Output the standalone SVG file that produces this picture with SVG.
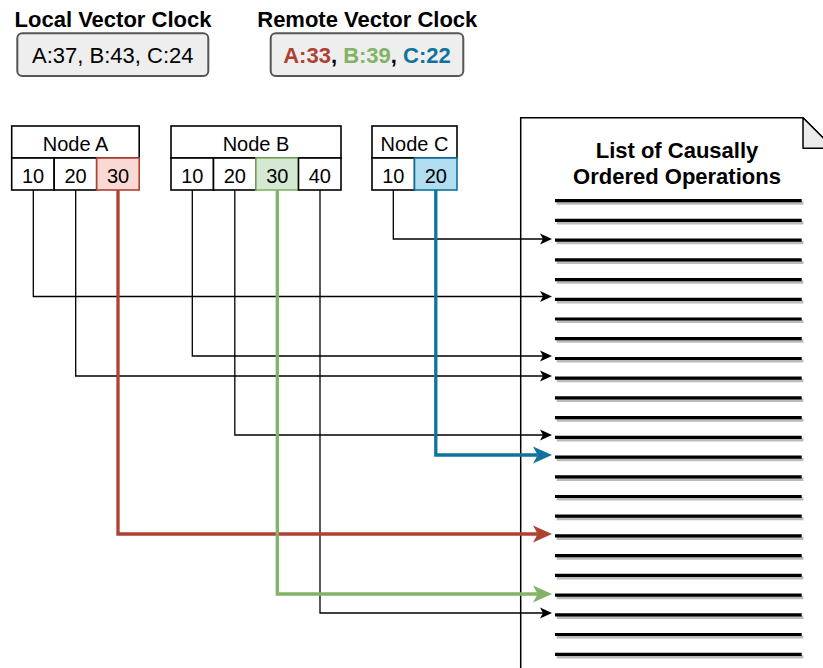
<svg xmlns="http://www.w3.org/2000/svg" width="823" height="668" viewBox="0 0 823 668">
<style>
text{font-family:"Liberation Sans",Arial,sans-serif;fill:#000}
.t{font-size:22px;font-weight:bold;text-anchor:middle}
.c{font-size:22px;text-anchor:middle}
.n{font-size:20px;text-anchor:middle}
.box{fill:#eeeeee;stroke:#555555;stroke-width:2}
.cell{fill:#ffffff;stroke:#000;stroke-width:1.6}
.k{fill:none;stroke:#000;stroke-width:1.3}
.red{fill:none;stroke:#ae4132;stroke-width:3.3}
.grn{fill:none;stroke:#82b366;stroke-width:3.3}
.blu{fill:none;stroke:#10739e;stroke-width:3.3}
</style>
<defs>
<marker id="ak" markerUnits="userSpaceOnUse" orient="auto" refX="0" refY="0" overflow="visible" markerWidth="1" markerHeight="1"><path d="M9,0 L-3,-5.5 L0,0 L-3,5.5 Z" fill="#000"/></marker>
<marker id="ar" markerUnits="userSpaceOnUse" orient="auto" refX="0" refY="0" overflow="visible" markerWidth="1" markerHeight="1"><path d="M14.25,0 L-4.75,-8.5 L0,0 L-4.75,8.5 Z" fill="#ae4132"/></marker>
<marker id="ag" markerUnits="userSpaceOnUse" orient="auto" refX="0" refY="0" overflow="visible" markerWidth="1" markerHeight="1"><path d="M14.25,0 L-4.75,-8.5 L0,0 L-4.75,8.5 Z" fill="#82b366"/></marker>
<marker id="ab" markerUnits="userSpaceOnUse" orient="auto" refX="0" refY="0" overflow="visible" markerWidth="1" markerHeight="1"><path d="M14.25,0 L-4.75,-8.5 L0,0 L-4.75,8.5 Z" fill="#10739e"/></marker>
</defs>

<g id="local-clock">
<text class="t" x="113" y="26.5">Local Vector Clock</text>
<rect class="box" x="17.3" y="33.3" width="191" height="42.7" rx="5"/>
<text class="c" x="112.8" y="63.3">A:37, B:43, C:24</text>
</g>

<g id="remote-clock">
<text class="t" x="367.3" y="26.5">Remote Vector Clock</text>
<rect class="box" x="270.7" y="33.3" width="192.6" height="42.7" rx="5"/>
<text class="c" x="367" y="63.3" font-weight="bold"><tspan fill="#ae4132">A:33</tspan>, <tspan fill="#82b366">B:39</tspan>, <tspan fill="#10739e">C:22</tspan></text>
</g>

<g id="document">
<path d="M520.7,117.7 H803 L833.5,148.3 V700 H520.7 Z" fill="#ffffff" stroke="#000" stroke-width="1.5"/>
<path d="M803,117.7 V148.3 H833.5 Z" fill="#ebebeb" stroke="#000" stroke-width="1.5" stroke-linejoin="round"/>
<text class="t" x="677" y="157.5">List of Causally</text>
<text class="t" x="677" y="183.5">Ordered Operations</text>
<path transform="translate(1.7,2.5)" fill="none" stroke="#bbbbbb" stroke-width="3.2" d="M555,200.7H801.7M555,220.4H801.7M555,240.1H801.7M555,259.9H801.7M555,279.6H801.7M555,299.3H801.7M555,319H801.7M555,338.7H801.7M555,358.5H801.7M555,378.2H801.7M555,397.9H801.7M555,417.6H801.7M555,437.3H801.7M555,457.1H801.7M555,476.8H801.7M555,496.5H801.7M555,516.2H801.7M555,535.9H801.7M555,555.7H801.7M555,575.4H801.7M555,595.1H801.7M555,614.8H801.7M555,634.5H801.7M555,654.3H801.7"/>
<path fill="none" stroke="#000" stroke-width="3.2" d="M555,200.7H801.7M555,220.4H801.7M555,240.1H801.7M555,259.9H801.7M555,279.6H801.7M555,299.3H801.7M555,319H801.7M555,338.7H801.7M555,358.5H801.7M555,378.2H801.7M555,397.9H801.7M555,417.6H801.7M555,437.3H801.7M555,457.1H801.7M555,476.8H801.7M555,496.5H801.7M555,516.2H801.7M555,535.9H801.7M555,555.7H801.7M555,575.4H801.7M555,595.1H801.7M555,614.8H801.7M555,634.5H801.7M555,654.3H801.7"/>
</g>

<g id="connectors">
<path class="k" d="M393.3,190 V239 H543" marker-end="url(#ak)"/>
<path class="k" d="M33.3,190 V296.5 H543" marker-end="url(#ak)"/>
<path class="k" d="M192.3,190 V356 H543" marker-end="url(#ak)"/>
<path class="k" d="M75.7,190 V376 H543" marker-end="url(#ak)"/>
<path class="k" d="M234.8,190 V435 H543" marker-end="url(#ak)"/>
<path class="k" d="M320,190 V613 H543" marker-end="url(#ak)"/>
<path class="blu" d="M435.8,190 V455 H537.75" marker-end="url(#ab)"/>
<path class="red" d="M118,190 V534 H537.75" marker-end="url(#ar)"/>
<path class="grn" d="M277.3,190 V594 H537.75" marker-end="url(#ag)"/>
</g>

<g id="node-a">
<rect class="cell" x="11.7" y="126" width="127.5" height="32"/>
<text class="n" x="75.5" y="150.7">Node A</text>
<rect class="cell" x="11.7" y="158" width="42.5" height="32"/>
<rect class="cell" x="54.2" y="158" width="42.5" height="32"/>
<rect class="cell" x="96.7" y="158" width="42.5" height="32" style="fill:#fad9d5;stroke:#ae4132"/>
<text class="n" x="33" y="183.3">10</text>
<text class="n" x="75.5" y="183.3">20</text>
<text class="n" x="118" y="183.3">30</text>
</g>

<g id="node-b">
<rect class="cell" x="171" y="126" width="170" height="32"/>
<text class="n" x="256" y="150.7">Node B</text>
<rect class="cell" x="171" y="158" width="42.5" height="32"/>
<rect class="cell" x="213.5" y="158" width="42.5" height="32"/>
<rect class="cell" x="256" y="158" width="42.5" height="32" style="fill:#d5e8d4;stroke:#82b366"/>
<rect class="cell" x="298.5" y="158" width="42.5" height="32"/>
<text class="n" x="192.3" y="183.3">10</text>
<text class="n" x="234.8" y="183.3">20</text>
<text class="n" x="277.3" y="183.3">30</text>
<text class="n" x="319.8" y="183.3">40</text>
</g>

<g id="node-c">
<rect class="cell" x="372" y="126" width="85" height="32"/>
<text class="n" x="414.5" y="150.7">Node C</text>
<rect class="cell" x="372" y="158" width="42.5" height="32"/>
<rect class="cell" x="414.5" y="158" width="42.5" height="32" style="fill:#b1ddf0;stroke:#10739e"/>
<text class="n" x="393.3" y="183.3">10</text>
<text class="n" x="435.8" y="183.3">20</text>
</g>
</svg>
